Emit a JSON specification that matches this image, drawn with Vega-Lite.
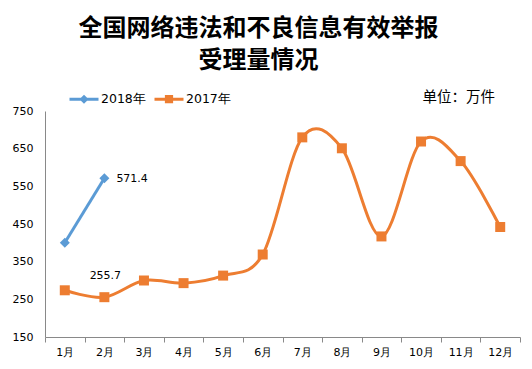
{
  "$schema": "https://vega.github.io/schema/vega-lite/v6.json",
  "width": 475,
  "height": 226,
  "autosize": {"type": "none"},
  "padding": {"left": 45, "top": 111, "right": 12, "bottom": 32},
  "background": "white",
  "title": {
    "text": ["全国网络违法和不良信息有效举报", "受理量情况"],
    "font": "Noto Sans CJK SC",
    "fontSize": 24,
    "fontWeight": "bold",
    "lineHeight": 32,
    "anchor": "middle",
    "dx": -24,
    "offset": 10,
    "color": "#000000"
  },
  "data": {
    "values": [
      {"month": "1月", "series": "2018年", "value": 400},
      {"month": "2月", "series": "2018年", "value": 571.4},
      {"month": "1月", "series": "2017年", "value": 274},
      {"month": "2月", "series": "2017年", "value": 255.7},
      {"month": "3月", "series": "2017年", "value": 300},
      {"month": "4月", "series": "2017年", "value": 293},
      {"month": "5月", "series": "2017年", "value": 313},
      {"month": "6月", "series": "2017年", "value": 369},
      {"month": "7月", "series": "2017年", "value": 680},
      {"month": "8月", "series": "2017年", "value": 651},
      {"month": "9月", "series": "2017年", "value": 417},
      {"month": "10月", "series": "2017年", "value": 669},
      {"month": "11月", "series": "2017年", "value": 617},
      {"month": "12月", "series": "2017年", "value": 442}
    ]
  },
  "encoding": {
    "x": {
      "field": "month",
      "type": "nominal",
      "sort": ["1月","2月","3月","4月","5月","6月","7月","8月","9月","10月","11月","12月"],
      "scale": {"type": "band", "paddingInner": 0, "paddingOuter": 0},
      "axis": {
        "title": null,
        "labelAngle": 0,
        "tickBand": "extent",
        "domainColor": "#898989",
        "tickColor": "#898989",
        "tickSize": 5,
        "labelFont": "DejaVu Sans",
        "labelFontSize": 11,
        "labelColor": "#000000",
        "labelPadding": 4,
        "grid": false
      }
    },
    "y": {
      "field": "value",
      "type": "quantitative",
      "scale": {"domain": [150, 750], "nice": false, "zero": false},
      "axis": {
        "title": "单位：万件",
        "titleAngle": 0,
        "titleX": 377,
        "titleY": -14,
        "titleAlign": "left",
        "titleBaseline": "middle",
        "titleFont": "Noto Sans CJK SC",
        "titleFontSize": 14.5,
        "titleFontWeight": "normal",
        "titleColor": "#000000",
        "ticks": false,
        "grid": false,
        "values": [150, 250, 350, 450, 550, 650, 750],
        "labelPadding": 12,
        "labelFont": "DejaVu Sans",
        "labelFontSize": 11,
        "labelColor": "#000000",
        "domainColor": "#898989"
      }
    },
    "color": {
      "field": "series",
      "type": "nominal",
      "scale": {"domain": ["2018年", "2017年"], "range": ["#5B9BD5", "#ED7D31"]},
      "legend": {
        "orient": "none",
        "legendX": 23,
        "legendY": -28,
        "direction": "horizontal",
        "title": null,
        "padding": 0,
        "labelFont": "DejaVu Sans",
        "labelFontSize": 12.5,
        "labelColor": "#000000",
        "symbolSize": 841,
        "symbolStrokeWidth": 3,
        "symbolType": {"signal": "datum.value == '2018年' ? 'M-1,0H1M0,-0.17L0.17,0L0,0.17L-0.17,0Z' : 'M-1,0H1M-0.18,-0.18H0.18V0.18H-0.18Z'"},
        "labelOffset": 1,
        "columnPadding": 2,
        "encode": {
          "symbols": {
            "update": {
              "stroke": {"signal": "scale('color', datum.value)"},
              "strokeWidth": {"value": 3}
            }
          }
        }
      }
    }
  },
  "layer": [
    {
      "mark": {"type": "line", "interpolate": "cardinal", "tension": 0, "strokeWidth": 3}
    },
    {
      "transform": [{"filter": "datum.series == '2018年'"}],
      "mark": {"type": "point", "filled": true, "size": 100, "opacity": 1},
      "encoding": {"shape": {"value": "diamond"}}
    },
    {
      "transform": [{"filter": "datum.series == '2017年'"}],
      "mark": {"type": "point", "filled": true, "size": 100, "opacity": 1},
      "encoding": {"shape": {"value": "square"}}
    },
    {
      "transform": [{"filter": "datum.series == '2018年' && datum.month == '2月'"}],
      "mark": {"type": "text", "align": "left", "baseline": "middle", "dx": 12, "dy": 1, "font": "DejaVu Sans", "fontSize": 11, "color": "#000000"},
      "encoding": {"text": {"field": "value", "type": "quantitative", "format": ".1f"}, "color": {"value": "#000000"}}
    },
    {
      "transform": [{"filter": "datum.series == '2017年' && datum.month == '2月'"}],
      "mark": {"type": "text", "align": "center", "baseline": "middle", "dx": 1, "dy": -21, "font": "DejaVu Sans", "fontSize": 11, "color": "#000000"},
      "encoding": {"text": {"field": "value", "type": "quantitative", "format": ".1f"}, "color": {"value": "#000000"}}
    }
  ],
  "config": {
    "view": {"stroke": null}
  }
}
